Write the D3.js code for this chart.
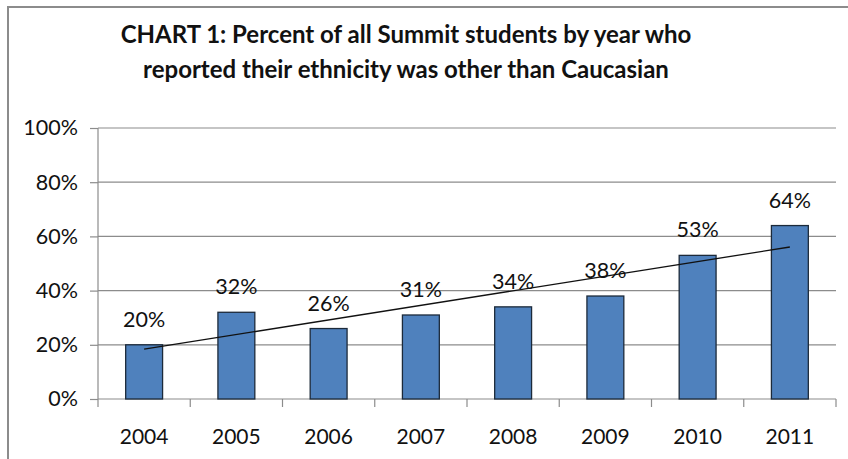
<!DOCTYPE html>
<html>
<head>
<meta charset="utf-8">
<script src="https://cdn.jsdelivr.net/npm/d3@7"></script>
<style>
  body { margin: 0; background: #fff; }
  svg { display: block; }
</style>
</head>
<body>
<svg></svg>
<script>
// data
var years = ["2004", "2005", "2006", "2007", "2008", "2009", "2010", "2011"];
var pct = [20, 32, 26, 31, 34, 38, 53, 64];
var yTicks = [0, 20, 40, 60, 80, 100];
var titleLines = [
  "CHART 1: Percent of all Summit students by year who",
  "reported their ethnicity was other than Caucasian"
];

var svgWidth = 848;
var svgHeight = 459;
var font = "Lato, 'Open Sans', sans-serif";

var svg = d3.select("svg")
  .attr("width", svgWidth)
  .attr("height", svgHeight);

// outer chart border (right/bottom edges run off the picture)
svg.append("rect")
  .attr("x", 8)
  .attr("y", 7)
  .attr("width", 900)
  .attr("height", 500)
  .attr("fill", "white")
  .attr("stroke", "#8c8c8c")
  .attr("stroke-width", 2);

// plot area
var plotL = 98, plotR = 836, plotT = 128, plotB = 399;

var x = d3.scaleBand()
  .domain(years)
  .range([plotL, plotR])
  .paddingInner(0.6)
  .paddingOuter(0.3);

var y = d3.scaleLinear()
  .domain([0, 100])
  .range([plotB, plotT]);

// title
svg.append("g")
  .selectAll("text")
  .data(titleLines)
  .enter()
  .append("text")
  .attr("x", 406)
  .attr("y", function(d, i) { return 43 + i * 35; })
  .attr("text-anchor", "middle")
  .attr("font-family", font)
  .attr("font-weight", "bold")
  .attr("font-size", "24px")
  .attr("fill", "#111")
  .text(function(d) { return d; });

// gridlines
svg.append("g")
  .selectAll("line")
  .data(yTicks.filter(function(d) { return d > 0; }))
  .enter()
  .append("line")
  .attr("x1", plotL)
  .attr("x2", plotR)
  .attr("y1", function(d) { return y(d); })
  .attr("y2", function(d) { return y(d); })
  .attr("stroke", "#8c8c8c")
  .attr("stroke-width", 1.2);

// y axis
var yAxis = d3.axisLeft(y)
  .tickValues(yTicks)
  .tickFormat(function(d) { return d + "%"; })
  .tickSize(8)
  .tickPadding(12);

var gy = svg.append("g")
  .attr("transform", "translate(" + plotL + ",0)")
  .call(yAxis);
gy.selectAll("path, line").attr("stroke", "#8c8c8c").attr("stroke-width", 1.2);
gy.select(".domain").attr("d", "M0," + plotT + "V" + plotB);
gy.selectAll("text")
  .attr("font-family", font)
  .attr("font-size", "21.5px")
  .attr("fill", "#111");

// x axis, ticks at category boundaries
var gx = svg.append("g")
  .attr("transform", "translate(0," + plotB + ")");
gx.append("line")
  .attr("x1", plotL)
  .attr("x2", plotR)
  .attr("stroke", "#8c8c8c")
  .attr("stroke-width", 1.2);
var step = x.step();
gx.selectAll(".tick")
  .data(d3.range(years.length + 1))
  .enter()
  .append("line")
  .attr("x1", function(i) { return plotL + i * step; })
  .attr("x2", function(i) { return plotL + i * step; })
  .attr("y1", 0)
  .attr("y2", 8)
  .attr("stroke", "#8c8c8c")
  .attr("stroke-width", 1.2);
gx.selectAll("text")
  .data(years)
  .enter()
  .append("text")
  .attr("x", function(d) { return x(d) + x.bandwidth() / 2; })
  .attr("y", 45)
  .attr("text-anchor", "middle")
  .attr("font-family", font)
  .attr("font-size", "21px")
  .attr("fill", "#111")
  .text(function(d) { return d; });

// bars
svg.append("g")
  .selectAll("rect")
  .data(pct)
  .enter()
  .append("rect")
  .attr("x", function(d, i) { return x(years[i]); })
  .attr("y", function(d) { return y(d); })
  .attr("width", x.bandwidth())
  .attr("height", function(d) { return plotB - y(d); })
  .attr("fill", "#4f81bd")
  .attr("stroke", "#1c2a3a")
  .attr("stroke-width", 1.3);

// linear trendline
var n = pct.length;
var mx = d3.mean(d3.range(n));
var my = d3.mean(pct);
var slope = d3.sum(pct, function(d, i) { return (i - mx) * (d - my); }) /
  d3.sum(d3.range(n), function(i) { return (i - mx) * (i - mx); });
var icpt = my - slope * mx;
svg.append("line")
  .attr("x1", x(years[0]) + x.bandwidth() / 2)
  .attr("y1", y(icpt))
  .attr("x2", x(years[n - 1]) + x.bandwidth() / 2)
  .attr("y2", y(icpt + slope * (n - 1)))
  .attr("stroke", "#111")
  .attr("stroke-width", 1.3);

// value labels
svg.append("g")
  .selectAll("text")
  .data(pct)
  .enter()
  .append("text")
  .attr("x", function(d, i) { return x(years[i]) + x.bandwidth() / 2; })
  .attr("y", function(d) { return y(d) - 18; })
  .attr("text-anchor", "middle")
  .attr("font-family", font)
  .attr("font-size", "21.5px")
  .attr("fill", "#111")
  .text(function(d) { return d + "%"; });
</script>
</body>
</html>
